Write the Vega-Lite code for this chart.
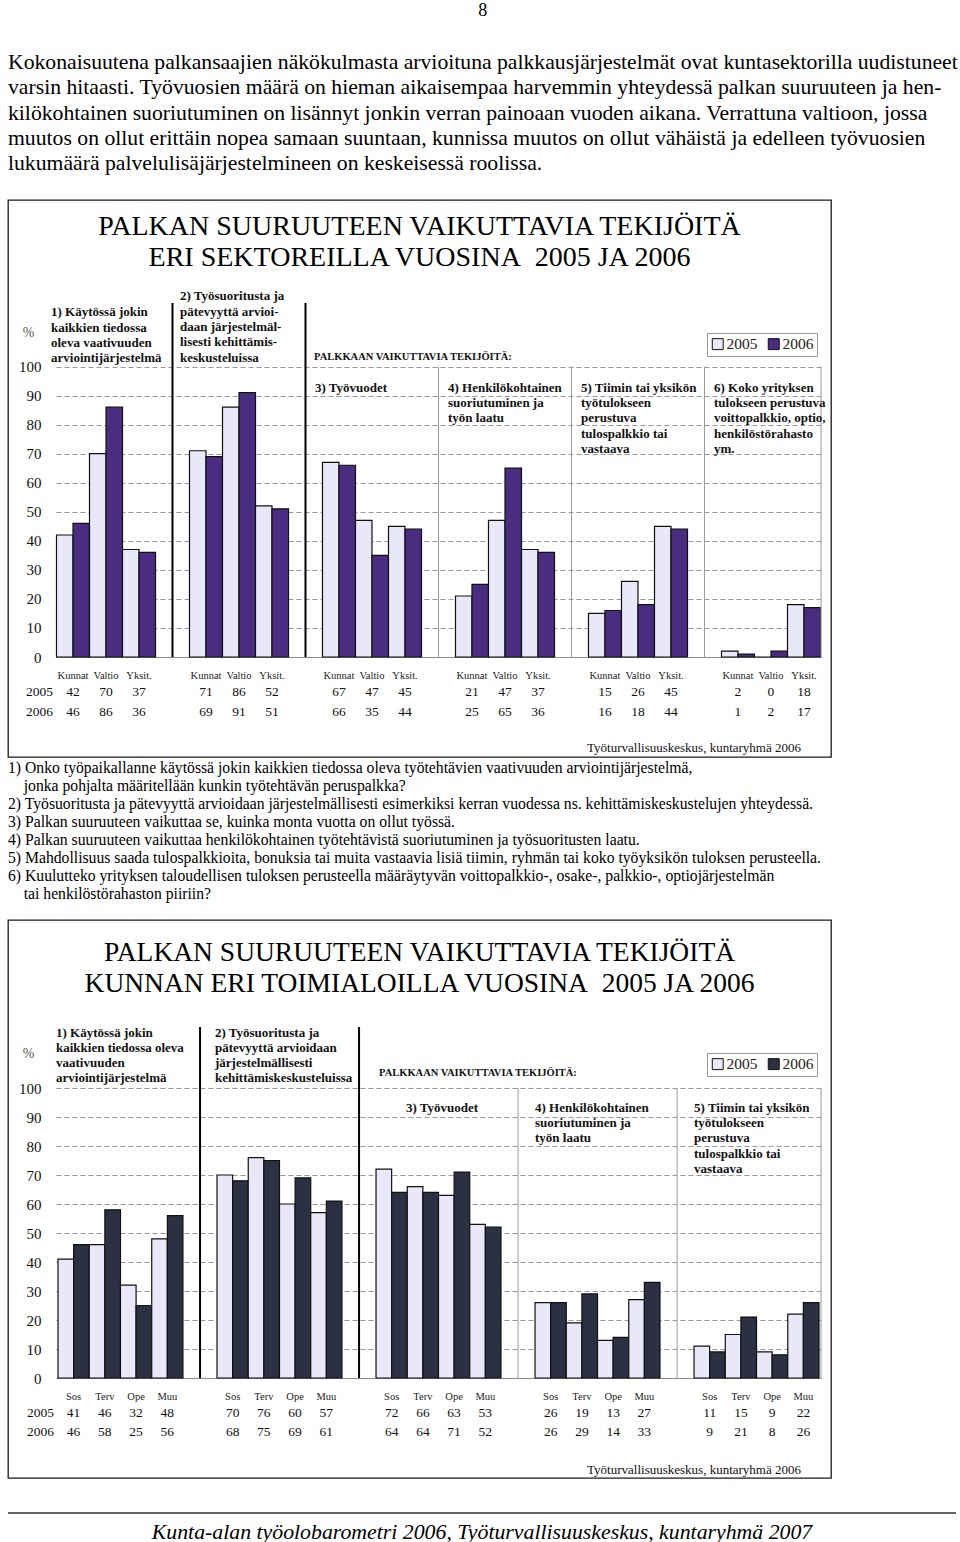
{
  "$schema": "https://vega.github.io/schema/vega-lite/v6.json",
  "background": "white",
  "padding": {"left": 7, "top": 2, "right": 0, "bottom": 0},
  "config": {
    "font": "Liberation Serif",
    "view": {"stroke": null},
    "title": {"color": "#000", "fontWeight": "normal", "font": "Liberation Serif"},
    "text": {"font": "Liberation Serif", "color": "#111"}
  },
  "title": {"text": "8", "anchor": "middle", "fontSize": 18, "offset": 31},
  "spacing": 1,
  "resolve": {"scale": {"color": "independent"}, "legend": {"color": "independent"}},
  "datasets": {
    "b1": [
      {"g":"g1","s":"Kunnat","year":"2005","v":42},{"g":"g1","s":"Kunnat","year":"2006","v":46},
      {"g":"g1","s":"Valtio","year":"2005","v":70},{"g":"g1","s":"Valtio","year":"2006","v":86},
      {"g":"g1","s":"Yksit.","year":"2005","v":37},{"g":"g1","s":"Yksit.","year":"2006","v":36},
      {"g":"g2","s":"Kunnat","year":"2005","v":71},{"g":"g2","s":"Kunnat","year":"2006","v":69},
      {"g":"g2","s":"Valtio","year":"2005","v":86},{"g":"g2","s":"Valtio","year":"2006","v":91},
      {"g":"g2","s":"Yksit.","year":"2005","v":52},{"g":"g2","s":"Yksit.","year":"2006","v":51},
      {"g":"g3","s":"Kunnat","year":"2005","v":67},{"g":"g3","s":"Kunnat","year":"2006","v":66},
      {"g":"g3","s":"Valtio","year":"2005","v":47},{"g":"g3","s":"Valtio","year":"2006","v":35},
      {"g":"g3","s":"Yksit.","year":"2005","v":45},{"g":"g3","s":"Yksit.","year":"2006","v":44},
      {"g":"g4","s":"Kunnat","year":"2005","v":21},{"g":"g4","s":"Kunnat","year":"2006","v":25},
      {"g":"g4","s":"Valtio","year":"2005","v":47},{"g":"g4","s":"Valtio","year":"2006","v":65},
      {"g":"g4","s":"Yksit.","year":"2005","v":37},{"g":"g4","s":"Yksit.","year":"2006","v":36},
      {"g":"g5","s":"Kunnat","year":"2005","v":15},{"g":"g5","s":"Kunnat","year":"2006","v":16},
      {"g":"g5","s":"Valtio","year":"2005","v":26},{"g":"g5","s":"Valtio","year":"2006","v":18},
      {"g":"g5","s":"Yksit.","year":"2005","v":45},{"g":"g5","s":"Yksit.","year":"2006","v":44},
      {"g":"g6","s":"Kunnat","year":"2005","v":2},{"g":"g6","s":"Kunnat","year":"2006","v":1},
      {"g":"g6","s":"Valtio","year":"2005","v":0},{"g":"g6","s":"Valtio","year":"2006","v":2},
      {"g":"g6","s":"Yksit.","year":"2005","v":18},{"g":"g6","s":"Yksit.","year":"2006","v":17}
    ],
    "b2": [
      {"g":"g1","s":"Sos","year":"2005","v":41},{"g":"g1","s":"Sos","year":"2006","v":46},
      {"g":"g1","s":"Terv","year":"2005","v":46},{"g":"g1","s":"Terv","year":"2006","v":58},
      {"g":"g1","s":"Ope","year":"2005","v":32},{"g":"g1","s":"Ope","year":"2006","v":25},
      {"g":"g1","s":"Muu","year":"2005","v":48},{"g":"g1","s":"Muu","year":"2006","v":56},
      {"g":"g2","s":"Sos","year":"2005","v":70},{"g":"g2","s":"Sos","year":"2006","v":68},
      {"g":"g2","s":"Terv","year":"2005","v":76},{"g":"g2","s":"Terv","year":"2006","v":75},
      {"g":"g2","s":"Ope","year":"2005","v":60},{"g":"g2","s":"Ope","year":"2006","v":69},
      {"g":"g2","s":"Muu","year":"2005","v":57},{"g":"g2","s":"Muu","year":"2006","v":61},
      {"g":"g3","s":"Sos","year":"2005","v":72},{"g":"g3","s":"Sos","year":"2006","v":64},
      {"g":"g3","s":"Terv","year":"2005","v":66},{"g":"g3","s":"Terv","year":"2006","v":64},
      {"g":"g3","s":"Ope","year":"2005","v":63},{"g":"g3","s":"Ope","year":"2006","v":71},
      {"g":"g3","s":"Muu","year":"2005","v":53},{"g":"g3","s":"Muu","year":"2006","v":52},
      {"g":"g4","s":"Sos","year":"2005","v":26},{"g":"g4","s":"Sos","year":"2006","v":26},
      {"g":"g4","s":"Terv","year":"2005","v":19},{"g":"g4","s":"Terv","year":"2006","v":29},
      {"g":"g4","s":"Ope","year":"2005","v":13},{"g":"g4","s":"Ope","year":"2006","v":14},
      {"g":"g4","s":"Muu","year":"2005","v":27},{"g":"g4","s":"Muu","year":"2006","v":33},
      {"g":"g5","s":"Sos","year":"2005","v":11},{"g":"g5","s":"Sos","year":"2006","v":9},
      {"g":"g5","s":"Terv","year":"2005","v":15},{"g":"g5","s":"Terv","year":"2006","v":21},
      {"g":"g5","s":"Ope","year":"2005","v":9},{"g":"g5","s":"Ope","year":"2006","v":8},
      {"g":"g5","s":"Muu","year":"2005","v":22},{"g":"g5","s":"Muu","year":"2006","v":26}
    ],
    "h1": [
      {"g":"g1","k":"top4","lines":["1) Käytössä jokin","kaikkien tiedossa","oleva vaativuuden","arviointijärjestelmä"]},
      {"g":"g2","k":"top5","lines":["2) Työsuoritusta ja","pätevyyttä arvioi-","daan järjestelmäl-","lisesti kehittämis-","keskusteluissa"]},
      {"g":"g3","k":"palk","lines":"PALKKAAN VAIKUTTAVIA TEKIJÖITÄ:"},
      {"g":"g3","k":"inner","lines":["3) Työvuodet"]},
      {"g":"g4","k":"inner","lines":["4) Henkilökohtainen","suoriutuminen ja","työn laatu"]},
      {"g":"g5","k":"inner","lines":["5) Tiimin tai yksikön","työtulokseen","perustuva","tulospalkkio tai","vastaava"]},
      {"g":"g6","k":"inner","lines":["6) Koko yrityksen","tulokseen perustuva","voittopalkkio, optio,","henkilöstörahasto","ym."]}
    ],
    "h2": [
      {"g":"g1","k":"top","lines":["1) Käytössä jokin","kaikkien tiedossa oleva","vaativuuden","arviointijärjestelmä"]},
      {"g":"g2","k":"top","lines":["2) Työsuoritusta ja","pätevyyttä arvioidaan","järjestelmällisesti","kehittämiskeskusteluissa"]},
      {"g":"g3","k":"palk","lines":"PALKKAAN VAIKUTTAVIA TEKIJÖITÄ:"},
      {"g":"g3","k":"inner3","lines":["3) Työvuodet"]},
      {"g":"g4","k":"inner","lines":["4) Henkilökohtainen","suoriutuminen ja","työn laatu"]},
      {"g":"g5","k":"inner","lines":["5) Tiimin tai yksikön","työtulokseen","perustuva","tulospalkkio tai","vastaava"]}
    ],
    "t1": [{"lines":["PALKAN SUURUUTEEN VAIKUTTAVIA TEKIJÖITÄ","ERI SEKTOREILLA VUOSINA\u00a0 2005 JA 2006"]}],
    "t2": [{"lines":["PALKAN SUURUUTEEN VAIKUTTAVIA TEKIJÖITÄ","KUNNAN ERI TOIMIALOILLA VUOSINA\u00a0 2005 JA 2006"]}],
    "yr": [{"year":"2005"},{"year":"2006"}],
    "src": [{"t":"Työturvallisuuskeskus, kuntaryhmä 2006"}],
    "d1": [{"g":"g2","k":"black"},{"g":"g3","k":"black"},{"g":"g4","k":"grey"},{"g":"g5","k":"grey"},{"g":"g6","k":"grey"}],
    "d2": [{"g":"g2","k":"black"},{"g":"g3","k":"black"},{"g":"g4","k":"grey"},{"g":"g5","k":"grey"}],
    "foot": [{"t":"rule"}]
  },
  "vconcat": [
    {
      "width": 823, "height": 557,
      "view": {"stroke": "#1a1a1a", "strokeWidth": 1.3},
      "title": {
        "text": [
          "Kokonaisuutena palkansaajien näkökulmasta arvioituna palkkausjärjestelmät ovat kuntasektorilla uudistuneet",
          "varsin hitaasti. Työvuosien määrä on hieman aikaisempaa harvemmin yhteydessä palkan suuruuteen ja hen-",
          "kilökohtainen suoriutuminen on lisännyt jonkin verran painoaan vuoden aikana. Verrattuna valtioon, jossa",
          "muutos on ollut erittäin nopea samaan suuntaan, kunnissa muutos on ollut vähäistä ja edelleen työvuosien",
          "lukumäärä palvelulisäjärjestelmineen on keskeisessä roolissa."
        ],
        "anchor": "start", "frame": "group", "fontSize": 21.7, "lineHeight": 25.3, "offset": 25
      },
      "resolve": {"scale": {"xOffset": "independent"}},
      "layer": [
        {
          "data": {"name": "d1"},
          "transform": [{"filter": "datum.k == 'grey'"}],
          "mark": {"type": "rule", "color": "#9a9a9a", "strokeWidth": 1},
          "encoding": {
            "x": {"field": "g", "type": "nominal", "bandPosition": -0.165},
            "y": {"datum": 0, "type": "quantitative"},
            "y2": {"datum": 100}
          }
        },
        {
          "data": {"name": "b1"},
          "transform": [{"calculate": "datum.s + datum.year", "as": "key"}],
          "mark": {"type": "bar", "stroke": "#111", "strokeWidth": 1.2},
          "encoding": {
            "x": {"field": "g", "type": "nominal",
              "scale": {"domain": ["g1","g2","g3","g4","g5","g6"], "range": [48, 813], "paddingInner": 0.248, "paddingOuter": 0},
              "axis": {"orient": "bottom", "offset": -100, "labels": false, "ticks": false, "domain": true, "domainColor": "#8a8a8a", "domainWidth": 1.2, "grid": false, "title": null}},
            "xOffset": {"field": "key", "type": "nominal",
              "scale": {"type": "band", "domain": ["Kunnat2005","Kunnat2006","Valtio2005","Valtio2006","Yksit.2005","Yksit.2006"], "paddingInner": 0, "paddingOuter": 0.03}},
            "y": {"field": "v", "type": "quantitative",
              "scale": {"domain": [0, 100], "range": [457, 166.5], "nice": false},
              "axis": {"values": [0,10,20,30,40,50,60,70,80,90,100], "title": "%", "titleAngle": 0, "titleX": -18, "titleY": 132,
                "titleFontSize": 14, "titleFontWeight": "normal", "titleColor": "#555", "titleAlign": "center", "titleBaseline": "middle",
                "labelFontSize": 15, "labelColor": "#111", "labelPadding": 5, "ticks": false, "tickSize": 0, "domain": false,
                "offset": -38, "grid": true, "gridDash": [5, 3], "gridColor": "#999", "gridWidth": 1}},
            "color": {"field": "year", "type": "nominal",
              "scale": {"domain": ["2005","2006"], "range": ["#e8e8f8", "#4a2d80"]},
              "legend": {"orient": "none", "legendX": 699, "legendY": 133, "direction": "horizontal", "title": null,
                "symbolType": "square", "symbolSize": 120, "symbolStrokeColor": "#111", "symbolStrokeWidth": 1,
                "labelFontSize": 15.5, "labelColor": "#222", "labelOffset": 1, "columnPadding": 8,
                "strokeColor": "#999", "padding": 3}}
          }
        },
        {
          "data": {"name": "d1"},
          "transform": [{"filter": "datum.k == 'black'"}],
          "mark": {"type": "rule", "color": "#000", "strokeWidth": 2},
          "encoding": {
            "x": {"field": "g", "type": "nominal", "bandPosition": -0.165},
            "y": {"datum": 0, "type": "quantitative"},
            "y2": {"datum": 121.9}
          }
        },
        {
          "data": {"name": "src"},
          "mark": {"type": "rule", "color": "#9a9a9a", "strokeWidth": 1},
          "encoding": {
            "x": {"datum": "g6", "type": "nominal", "bandPosition": 1},
            "y": {"datum": 0, "type": "quantitative"},
            "y2": {"datum": 100}
          }
        },
        {
          "data": {"name": "t1"},
          "mark": {"type": "text", "align": "center", "baseline": "middle", "fontSize": 28, "lineHeight": 31, "color": "#000"},
          "encoding": {
            "y": {"datum": 148.0, "type": "quantitative"},
            "text": {"field": "lines", "type": "nominal"}
          }
        },
        {
          "data": {"name": "h1"},
          "transform": [{"filter": "datum.k == 'top4'"}],
          "mark": {"type": "text", "align": "left", "baseline": "top", "dx": -5, "fontSize": 13, "fontWeight": "bold", "lineHeight": 15.3, "color": "#111"},
          "encoding": {
            "x": {"field": "g", "type": "nominal", "bandPosition": 0},
            "y": {"datum": 120.7, "type": "quantitative"},
            "text": {"field": "lines", "type": "nominal"}
          }
        },
        {
          "data": {"name": "h1"},
          "transform": [{"filter": "datum.k == 'top5'"}],
          "mark": {"type": "text", "align": "left", "baseline": "top", "dx": -9, "fontSize": 13, "fontWeight": "bold", "lineHeight": 15.3, "color": "#111"},
          "encoding": {
            "x": {"field": "g", "type": "nominal", "bandPosition": 0},
            "y": {"datum": 126.2, "type": "quantitative"},
            "text": {"field": "lines", "type": "nominal"}
          }
        },
        {
          "data": {"name": "h1"},
          "transform": [{"filter": "datum.k == 'inner'"}],
          "mark": {"type": "text", "align": "left", "baseline": "top", "dx": -7, "fontSize": 13, "fontWeight": "bold", "lineHeight": 15.3, "color": "#111"},
          "encoding": {
            "x": {"field": "g", "type": "nominal", "bandPosition": 0},
            "y": {"datum": 94.7, "type": "quantitative"},
            "text": {"field": "lines", "type": "nominal"}
          }
        },
        {
          "data": {"name": "h1"},
          "transform": [{"filter": "datum.k == 'palk'"}],
          "mark": {"type": "text", "align": "left", "baseline": "middle", "dx": -8, "fontSize": 10.5, "fontWeight": "bold", "color": "#111"},
          "encoding": {
            "x": {"field": "g", "type": "nominal", "bandPosition": 0},
            "y": {"datum": 103.3, "type": "quantitative"},
            "text": {"field": "lines", "type": "nominal"}
          }
        },
        {
          "data": {"name": "b1"},
          "transform": [{"filter": "datum.year == '2005'"}],
          "mark": {"type": "text", "baseline": "middle", "fontSize": 10.5, "color": "#222"},
          "encoding": {
            "x": {"field": "g", "type": "nominal"},
            "xOffset": {"field": "s", "type": "nominal", "scale": {"type": "band", "domain": ["Kunnat","Valtio","Yksit."], "paddingInner": 0, "paddingOuter": 0.015}},
            "y": {"datum": -6.54, "type": "quantitative"},
            "text": {"field": "s", "type": "nominal"}
          }
        },
        {
          "data": {"name": "b1"},
          "transform": [{"filter": "datum.year == '2005'"}],
          "mark": {"type": "text", "baseline": "middle", "fontSize": 13.5, "color": "#111"},
          "encoding": {
            "x": {"field": "g", "type": "nominal"},
            "xOffset": {"field": "s", "type": "nominal", "scale": {"type": "band", "domain": ["Kunnat","Valtio","Yksit."], "paddingInner": 0, "paddingOuter": 0.015}},
            "y": {"datum": -12.05, "type": "quantitative"},
            "text": {"field": "v", "type": "quantitative"}
          }
        },
        {
          "data": {"name": "b1"},
          "transform": [{"filter": "datum.year == '2006'"}],
          "mark": {"type": "text", "baseline": "middle", "fontSize": 13.5, "color": "#111"},
          "encoding": {
            "x": {"field": "g", "type": "nominal"},
            "xOffset": {"field": "s", "type": "nominal", "scale": {"type": "band", "domain": ["Kunnat","Valtio","Yksit."], "paddingInner": 0, "paddingOuter": 0.015}},
            "y": {"datum": -18.93, "type": "quantitative"},
            "text": {"field": "v", "type": "quantitative"}
          }
        },
        {
          "data": {"name": "yr"},
          "transform": [{"filter": "datum.year == '2005'"}],
          "mark": {"type": "text", "align": "center", "baseline": "middle", "fontSize": 13.5, "color": "#111"},
          "encoding": {
            "x": {"datum": "g1", "type": "nominal", "bandPosition": -0.165},
            "y": {"datum": -12.05, "type": "quantitative"},
            "text": {"field": "year", "type": "nominal"}
          }
        },
        {
          "data": {"name": "yr"},
          "transform": [{"filter": "datum.year == '2006'"}],
          "mark": {"type": "text", "align": "center", "baseline": "middle", "fontSize": 13.5, "color": "#111"},
          "encoding": {
            "x": {"datum": "g1", "type": "nominal", "bandPosition": -0.165},
            "y": {"datum": -18.93, "type": "quantitative"},
            "text": {"field": "year", "type": "nominal"}
          }
        },
        {
          "data": {"name": "src"},
          "mark": {"type": "text", "align": "right", "baseline": "middle", "fontSize": 13, "color": "#111"},
          "encoding": {
            "x": {"datum": "g6", "type": "nominal", "bandPosition": 0.8},
            "y": {"datum": -31.3, "type": "quantitative"},
            "text": {"field": "t", "type": "nominal"}
          }
        }
      ]
    },
    {
      "width": 823, "height": 558,
      "view": {"stroke": "#1a1a1a", "strokeWidth": 1.3},
      "title": {
        "text": [
          "1) Onko työpaikallanne käytössä jokin kaikkien tiedossa oleva työtehtävien vaativuuden arviointijärjestelmä,",
          "\u200b\u00a0\u00a0\u00a0\u00a0jonka pohjalta määritellään kunkin työtehtävän peruspalkka?",
          "2) Työsuoritusta ja pätevyyttä arvioidaan järjestelmällisesti esimerkiksi kerran vuodessa ns. kehittämiskeskustelujen yhteydessä.",
          "3) Palkan suuruuteen vaikuttaa se, kuinka monta vuotta on ollut työssä.",
          "4) Palkan suuruuteen vaikuttaa henkilökohtainen työtehtävistä suoriutuminen ja työsuoritusten laatu.",
          "5) Mahdollisuus saada tulospalkkioita, bonuksia tai muita vastaavia lisiä tiimin, ryhmän tai koko työyksikön tuloksen perusteella.",
          "6) Kuulutteko yrityksen taloudellisen tuloksen perusteella määräytyvän voittopalkkio-, osake-, palkkio-, optiojärjestelmän",
          "\u200b\u00a0\u00a0\u00a0\u00a0tai henkilöstörahaston piiriin?"
        ],
        "anchor": "start", "frame": "group", "fontSize": 15.7, "lineHeight": 18, "offset": 17
      },
      "resolve": {"scale": {"xOffset": "independent"}},
      "layer": [
        {
          "data": {"name": "d2"},
          "transform": [{"filter": "datum.k == 'grey'"}],
          "mark": {"type": "rule", "color": "#9a9a9a", "strokeWidth": 1},
          "encoding": {
            "x": {"field": "g", "type": "nominal", "bandPosition": -0.116},
            "y": {"datum": 0, "type": "quantitative"},
            "y2": {"datum": 100}
          }
        },
        {
          "data": {"name": "b2"},
          "transform": [{"calculate": "datum.s + datum.year", "as": "key"}],
          "mark": {"type": "bar", "stroke": "#111", "strokeWidth": 1.2},
          "encoding": {
            "x": {"field": "g", "type": "nominal",
              "scale": {"domain": ["g1","g2","g3","g4","g5"], "range": [48, 813], "paddingInner": 0.189, "paddingOuter": 0},
              "axis": {"orient": "bottom", "offset": -100, "labels": false, "ticks": false, "domain": true, "domainColor": "#8a8a8a", "domainWidth": 1.2, "grid": false, "title": null}},
            "xOffset": {"field": "key", "type": "nominal",
              "scale": {"type": "band", "domain": ["Sos2005","Sos2006","Terv2005","Terv2006","Ope2005","Ope2006","Muu2005","Muu2006"], "paddingInner": 0, "paddingOuter": 0.128}},
            "y": {"field": "v", "type": "quantitative",
              "scale": {"domain": [0, 100], "range": [458, 168], "nice": false},
              "axis": {"values": [0,10,20,30,40,50,60,70,80,90,100], "title": "%", "titleAngle": 0, "titleX": -18, "titleY": 133,
                "titleFontSize": 14, "titleFontWeight": "normal", "titleColor": "#555", "titleAlign": "center", "titleBaseline": "middle",
                "labelFontSize": 15, "labelColor": "#111", "labelPadding": 5, "ticks": false, "tickSize": 0, "domain": false,
                "offset": -38, "grid": true, "gridDash": [5, 3], "gridColor": "#999", "gridWidth": 1}},
            "color": {"field": "year", "type": "nominal",
              "scale": {"domain": ["2005","2006"], "range": ["#e8e8f8", "#2b3142"]},
              "legend": {"orient": "none", "legendX": 699, "legendY": 133, "direction": "horizontal", "title": null,
                "symbolType": "square", "symbolSize": 120, "symbolStrokeColor": "#111", "symbolStrokeWidth": 1,
                "labelFontSize": 15.5, "labelColor": "#222", "labelOffset": 1, "columnPadding": 8,
                "strokeColor": "#999", "padding": 3}}
          }
        },
        {
          "data": {"name": "d2"},
          "transform": [{"filter": "datum.k == 'black'"}],
          "mark": {"type": "rule", "color": "#000", "strokeWidth": 2},
          "encoding": {
            "x": {"field": "g", "type": "nominal", "bandPosition": -0.116},
            "y": {"datum": 0, "type": "quantitative"},
            "y2": {"datum": 121}
          }
        },
        {
          "data": {"name": "src"},
          "mark": {"type": "rule", "color": "#9a9a9a", "strokeWidth": 1},
          "encoding": {
            "x": {"datum": "g5", "type": "nominal", "bandPosition": 1},
            "y": {"datum": 0, "type": "quantitative"},
            "y2": {"datum": 100}
          }
        },
        {
          "data": {"name": "t2"},
          "mark": {"type": "text", "align": "center", "baseline": "middle", "fontSize": 27.5, "lineHeight": 31, "color": "#000"},
          "encoding": {
            "y": {"datum": 146.4, "type": "quantitative"},
            "text": {"field": "lines", "type": "nominal"}
          }
        },
        {
          "data": {"name": "h2"},
          "transform": [{"filter": "datum.k == 'top'"}],
          "mark": {"type": "text", "align": "left", "baseline": "top", "dx": 0, "fontSize": 13, "fontWeight": "bold", "lineHeight": 15.3, "color": "#111"},
          "encoding": {
            "x": {"field": "g", "type": "nominal", "bandPosition": 0},
            "y": {"datum": 121.2, "type": "quantitative"},
            "text": {"field": "lines", "type": "nominal"}
          }
        },
        {
          "data": {"name": "h2"},
          "transform": [{"filter": "datum.k == 'inner'"}],
          "mark": {"type": "text", "align": "left", "baseline": "top", "dx": 2, "fontSize": 13, "fontWeight": "bold", "lineHeight": 15.3, "color": "#111"},
          "encoding": {
            "x": {"field": "g", "type": "nominal", "bandPosition": 0},
            "y": {"datum": 95.3, "type": "quantitative"},
            "text": {"field": "lines", "type": "nominal"}
          }
        },
        {
          "data": {"name": "h2"},
          "transform": [{"filter": "datum.k == 'inner3'"}],
          "mark": {"type": "text", "align": "left", "baseline": "top", "dx": 32, "fontSize": 13, "fontWeight": "bold", "lineHeight": 15.3, "color": "#111"},
          "encoding": {
            "x": {"field": "g", "type": "nominal", "bandPosition": 0},
            "y": {"datum": 95.3, "type": "quantitative"},
            "text": {"field": "lines", "type": "nominal"}
          }
        },
        {
          "data": {"name": "h2"},
          "transform": [{"filter": "datum.k == 'palk'"}],
          "mark": {"type": "text", "align": "left", "baseline": "middle", "dx": 5, "fontSize": 10.5, "fontWeight": "bold", "color": "#111"},
          "encoding": {
            "x": {"field": "g", "type": "nominal", "bandPosition": 0},
            "y": {"datum": 105.2, "type": "quantitative"},
            "text": {"field": "lines", "type": "nominal"}
          }
        },
        {
          "data": {"name": "b2"},
          "transform": [{"filter": "datum.year == '2005'"}],
          "mark": {"type": "text", "baseline": "middle", "fontSize": 10.5, "color": "#222"},
          "encoding": {
            "x": {"field": "g", "type": "nominal"},
            "xOffset": {"field": "s", "type": "nominal", "scale": {"type": "band", "domain": ["Sos","Terv","Ope","Muu"], "paddingInner": 0, "paddingOuter": 0.064}},
            "y": {"datum": -6.55, "type": "quantitative"},
            "text": {"field": "s", "type": "nominal"}
          }
        },
        {
          "data": {"name": "b2"},
          "transform": [{"filter": "datum.year == '2005'"}],
          "mark": {"type": "text", "baseline": "middle", "fontSize": 13.5, "color": "#111"},
          "encoding": {
            "x": {"field": "g", "type": "nominal"},
            "xOffset": {"field": "s", "type": "nominal", "scale": {"type": "band", "domain": ["Sos","Terv","Ope","Muu"], "paddingInner": 0, "paddingOuter": 0.064}},
            "y": {"datum": -12.07, "type": "quantitative"},
            "text": {"field": "v", "type": "quantitative"}
          }
        },
        {
          "data": {"name": "b2"},
          "transform": [{"filter": "datum.year == '2006'"}],
          "mark": {"type": "text", "baseline": "middle", "fontSize": 13.5, "color": "#111"},
          "encoding": {
            "x": {"field": "g", "type": "nominal"},
            "xOffset": {"field": "s", "type": "nominal", "scale": {"type": "band", "domain": ["Sos","Terv","Ope","Muu"], "paddingInner": 0, "paddingOuter": 0.064}},
            "y": {"datum": -18.62, "type": "quantitative"},
            "text": {"field": "v", "type": "quantitative"}
          }
        },
        {
          "data": {"name": "yr"},
          "transform": [{"filter": "datum.year == '2005'"}],
          "mark": {"type": "text", "align": "center", "baseline": "middle", "fontSize": 13.5, "color": "#111"},
          "encoding": {
            "x": {"datum": "g1", "type": "nominal", "bandPosition": -0.12},
            "y": {"datum": -12.07, "type": "quantitative"},
            "text": {"field": "year", "type": "nominal"}
          }
        },
        {
          "data": {"name": "yr"},
          "transform": [{"filter": "datum.year == '2006'"}],
          "mark": {"type": "text", "align": "center", "baseline": "middle", "fontSize": 13.5, "color": "#111"},
          "encoding": {
            "x": {"datum": "g1", "type": "nominal", "bandPosition": -0.12},
            "y": {"datum": -18.62, "type": "quantitative"},
            "text": {"field": "year", "type": "nominal"}
          }
        },
        {
          "data": {"name": "src"},
          "mark": {"type": "text", "align": "right", "baseline": "middle", "fontSize": 13, "color": "#111"},
          "encoding": {
            "x": {"datum": "g5", "type": "nominal", "bandPosition": 0.845},
            "y": {"datum": -31.7, "type": "quantitative"},
            "text": {"field": "t", "type": "nominal"}
          }
        }
      ]
    },
    {
      "width": 948, "height": 33,
      "data": {"name": "foot"},
      "title": {"text": "Kunta-alan työolobarometri 2006, Työturvallisuuskeskus, kuntaryhmä 2007", "orient": "bottom", "anchor": "middle", "fontSize": 21.8, "fontStyle": "italic", "offset": 8},
      "mark": {"type": "rule", "color": "#333", "strokeWidth": 1.5},
      "encoding": {
        "y": {"datum": 0, "type": "quantitative", "scale": {"domain": [0, 1]}, "axis": null}
      }
    }
  ]
}
